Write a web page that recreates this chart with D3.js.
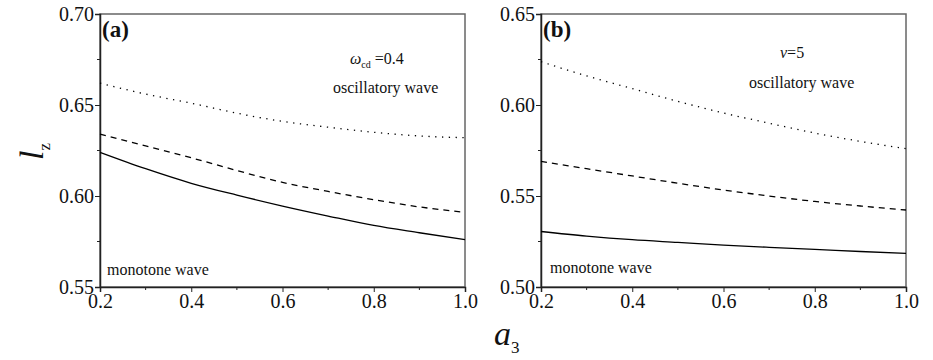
<!DOCTYPE html>
<html><head><meta charset="utf-8">
<script src="https://cdn.jsdelivr.net/npm/d3@7"></script>
</head><body style="margin:0">
<svg id="c" width="933" height="360" font-family="Liberation Serif"></svg>
<script>
const a3 = [0.2, 0.3, 0.4, 0.5, 0.6, 0.7, 0.8, 0.9, 1.0];
// panel (a)
const aSolid  = [0.624, 0.615, 0.607, 0.6005, 0.5945, 0.589, 0.5838, 0.5798, 0.576];
const aDashed = [0.634, 0.6275, 0.621, 0.614, 0.6075, 0.6025, 0.598, 0.594, 0.591];
const aDotted = [0.662, 0.656, 0.651, 0.6455, 0.641, 0.6378, 0.635, 0.633, 0.632];
// panel (b)
const bSolid  = [0.5305, 0.528, 0.526, 0.5245, 0.523, 0.5218, 0.5207, 0.5195, 0.5185];
const bDashed = [0.569, 0.565, 0.561, 0.557, 0.5533, 0.550, 0.547, 0.5445, 0.5423];
const bDotted = [0.6238, 0.616, 0.609, 0.602, 0.5956, 0.590, 0.5846, 0.580, 0.576];
const xTicks = [0.2, 0.4, 0.6, 0.8, 1.0];
const aYTicks = [0.55, 0.60, 0.65, 0.70];
const bYTicks = [0.50, 0.55, 0.60, 0.65];

const FONT = "Liberation Serif";
const svg = d3.select("#c");
const plotTop = 14, plotBottom = 287;

function txt(sel, x, y, size) {
  return sel.append("text").attr("x", x).attr("y", y).attr("font-size", size)
    .attr("font-family", FONT).style("font-family", FONT).attr("fill", "#111");
}

function panel(x0, x1, ydom, yticks, series, tag, param, paramPos, oscPos, monoPos) {
  const x = d3.scaleLinear().domain([0.2, 1.0]).range([x0, x1]);
  const y = d3.scaleLinear().domain(ydom).range([plotBottom, plotTop]);
  const g = svg.append("g");
  g.append("rect").attr("x", x0).attr("y", plotTop).attr("width", x1 - x0).attr("height", plotBottom - plotTop)
    .attr("fill", "none").attr("stroke", "#666").attr("stroke-width", 1.5);
  const xMinor = [0.3, 0.5, 0.7, 0.9];
  g.selectAll(".xm").data(xMinor).join("line").attr("x1", d => x(d)).attr("x2", d => x(d))
    .attr("y1", plotBottom).attr("y2", plotBottom + 3).attr("stroke", "#222");
  const yMinor = [ydom[0] + 0.025, ydom[0] + 0.075, ydom[0] + 0.125];
  g.selectAll(".ym").data(yMinor).join("line").attr("y1", d => y(d)).attr("y2", d => y(d))
    .attr("x1", x0).attr("x2", x0 - 3).attr("stroke", "#222");
  const xa = g.append("g").attr("transform", `translate(0,${plotBottom})`)
    .call(d3.axisBottom(x).tickValues(xTicks).tickFormat(d3.format(".1f")).tickSize(5).tickPadding(2));
  const ya = g.append("g").attr("transform", `translate(${x0},0)`)
    .call(d3.axisLeft(y).tickValues(yticks).tickFormat(d3.format(".2f")).tickSize(5).tickPadding(1));
  [xa, ya].forEach(a => {
    a.attr("font-family", FONT).attr("font-size", 20);
    a.select(".domain").attr("stroke", "#222").attr("stroke-width", 1.5);
    a.selectAll(".tick line").attr("stroke", "#222");
    a.selectAll("text").attr("fill", "#111").attr("font-family", FONT).style("font-family", FONT).attr("font-size", 20);
  });
  const line = vals => d3.line().x((d, i) => x(a3[i])).y(d => y(d)).curve(d3.curveMonotoneX)(vals);
  g.append("path").attr("d", line(series[0])).attr("fill", "none").attr("stroke", "#000").attr("stroke-width", 1.3);
  g.append("path").attr("d", line(series[1])).attr("fill", "none").attr("stroke", "#000").attr("stroke-width", 1.3).attr("stroke-dasharray", "6,5");
  g.append("path").attr("d", line(series[2])).attr("fill", "none").attr("stroke", "#000").attr("stroke-width", 1.3).attr("stroke-dasharray", "1.3,5.5");
  txt(g, x0 + 2, 37, 23).attr("font-weight", "bold").text(tag);
  param(g, paramPos);
  txt(g, oscPos[0], oscPos[1], 16).text("oscillatory wave");
  txt(g, monoPos[0], monoPos[1], 16).text("monotone wave");
}

panel(100, 465, [0.55, 0.70], aYTicks, [aSolid, aDashed, aDotted], "(a)", (g, p) => {
  const t = txt(g, p[0], p[1], 16);
  t.append("tspan").attr("font-style", "italic").text("ω");
  t.append("tspan").attr("font-size", 10).attr("dy", 4).text("cd");
  t.append("tspan").attr("dy", -4).text(" =0.4");
}, [350, 64], [333, 93], [107, 275]);

panel(541, 906, [0.50, 0.65], bYTicks, [bSolid, bDashed, bDotted], "(b)", (g, p) => {
  const t = txt(g, p[0], p[1], 16);
  t.append("tspan").attr("font-style", "italic").text("ν");
  t.append("tspan").text("=5");
}, [780, 58], [749, 88], [550, 273]);

const yl = svg.append("text").attr("transform", "translate(43,160) rotate(-90)").attr("font-size", 34)
  .attr("font-family", FONT).style("font-family", FONT).attr("fill", "#111");
yl.append("tspan").attr("font-style", "italic").text("l");
yl.append("tspan").attr("font-size", 17).attr("dy", 7).text("z");
const xl = svg.append("text").attr("x", 494).attr("y", 345).attr("font-size", 34)
  .attr("font-family", FONT).style("font-family", FONT).attr("fill", "#111");
xl.append("tspan").attr("font-style", "italic").text("a");
xl.append("tspan").attr("font-size", 17).attr("dy", 8).text("3");
</script></body></html>
